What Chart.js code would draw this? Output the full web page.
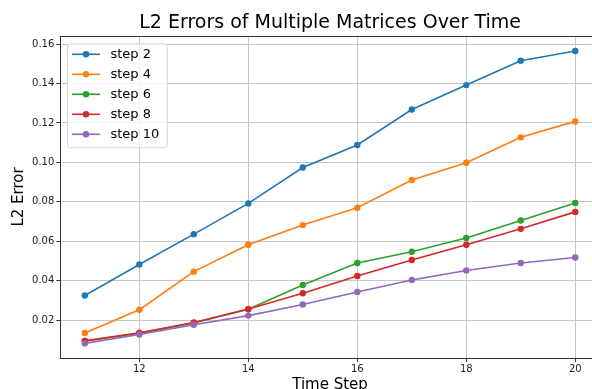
<!DOCTYPE html>
<html>
<head>
<meta charset="utf-8">
<script src="https://cdn.jsdelivr.net/npm/chart.js@4/dist/chart.umd.min.js"></script>
<style>
  html, body { margin: 0; padding: 0; background: #fff; }
  #wrap { width: 592px; height: 389px; overflow: hidden; position: relative; }
  canvas { display: block; }
</style>
</head>
<body>
<div id="wrap"><canvas id="chart" width="660" height="400"></canvas></div>
<script>
// Time steps on the x axis
const timeSteps = [11, 12, 13, 14, 15, 16, 17, 18, 19, 20];

// L2 error per series
const step2  = [0.0325, 0.0482, 0.0636, 0.0792, 0.0974, 0.1088, 0.1268, 0.1392, 0.1516, 0.1565];
const step4  = [0.0135, 0.0253, 0.0446, 0.0582, 0.0682, 0.0770, 0.0911, 0.0998, 0.1127, 0.1208];
const step6  = [0.0094, 0.0133, 0.0186, 0.0255, 0.0378, 0.0490, 0.0547, 0.0617, 0.0705, 0.0794];
const step8  = [0.0095, 0.0136, 0.0188, 0.0256, 0.0336, 0.0424, 0.0505, 0.0582, 0.0663, 0.0749];
const step10 = [0.0082, 0.0127, 0.0177, 0.0223, 0.0279, 0.0343, 0.0404, 0.0452, 0.0490, 0.0518];

const seriesLabels = ['step 2', 'step 4', 'step 6', 'step 8', 'step 10'];
const seriesValues = [step2, step4, step6, step8, step10];
const seriesColors = ['#1f77b4', '#ff7f0e', '#2ca02c', '#d62728', '#9467bd'];

// Tick positions
const xTickValues = [12, 14, 16, 18, 20];
const yTickValues = [0.02, 0.04, 0.06, 0.08, 0.10, 0.12, 0.14, 0.16];

const FONT = 'DejaVu Sans';

const datasets = seriesValues.map((vals, i) => ({
  label: seriesLabels[i],
  data: timeSteps.map((t, j) => ({ x: t, y: vals[j] })),
  borderColor: seriesColors[i],
  backgroundColor: seriesColors[i],
  pointBackgroundColor: seriesColors[i],
  pointBorderWidth: 0,
  pointRadius: 3.2,
  borderWidth: 1.6,
  tension: 0,
  fill: false,
  order: seriesValues.length - i
}));

// Top frame line of the plot area
const topSpine = {
  id: 'topSpine',
  afterDraw(chart) {
    const { ctx, chartArea: a } = chart;
    ctx.save();
    ctx.strokeStyle = '#333';
    ctx.lineWidth = 1;
    ctx.beginPath();
    ctx.moveTo(a.left, Math.round(a.top) + 0.5);
    ctx.lineTo(a.right, Math.round(a.top) + 0.5);
    ctx.stroke();
    ctx.restore();
  }
};

// Legend box drawn inside the upper-left corner of the plot
const boxLegend = {
  id: 'boxLegend',
  afterDatasetsDraw(chart) {
    const { ctx, chartArea: a } = chart;
    const x0 = a.left + 6.7, y0 = a.top + 7.3, w = 99.7, h = 104, r = 3;
    ctx.save();
    ctx.beginPath();
    ctx.roundRect(x0 + 0.5, y0 + 0.5, w, h, r);
    ctx.fillStyle = 'rgba(255,255,255,0.8)';
    ctx.fill();
    ctx.strokeStyle = '#d4d4d4';
    ctx.lineWidth = 1;
    ctx.stroke();
    chart.data.datasets.forEach((ds, i) => {
      const cy = y0 + 11 + i * 20;
      ctx.strokeStyle = ds.borderColor;
      ctx.lineWidth = 1.6;
      ctx.beginPath();
      ctx.moveTo(x0 + 5, cy);
      ctx.lineTo(x0 + 33, cy);
      ctx.stroke();
      ctx.fillStyle = ds.borderColor;
      ctx.beginPath();
      ctx.arc(x0 + 19, cy, 3.2, 0, Math.PI * 2);
      ctx.fill();
      ctx.fillStyle = '#000';
      ctx.font = '13px "' + FONT + '"';
      ctx.textBaseline = 'middle';
      ctx.textAlign = 'left';
      ctx.fillText(ds.label, x0 + 43.5, cy + 0.5);
    });
    ctx.restore();
  }
};

new Chart(document.getElementById('chart'), {
  type: 'line',
  data: { datasets },
  plugins: [topSpine, boxLegend],
  options: {
    responsive: false,
    animation: false,
    devicePixelRatio: 1,
    layout: { padding: { left: 0, right: 60.2, top: 0, bottom: 0 } },
    plugins: {
      legend: { display: false },
      tooltip: { enabled: false },
      title: {
        display: true,
        fullSize: false,
        text: 'L2 Errors of Multiple Matrices Over Time',
        color: '#000',
        font: { family: FONT, size: 19, weight: 'normal', lineHeight: 1.2 },
        padding: { top: 12, bottom: 1.2 }
      }
    },
    scales: {
      x: {
        type: 'linear',
        min: 10.55,
        max: 20.45,
        afterBuildTicks: s => { s.ticks = xTickValues.map(v => ({ value: v })); },
        afterFit: s => { s.height = 42; },
        grid: { color: '#c6c6c6', lineWidth: 1, tickColor: '#333', tickLength: 4, drawTicks: true },
        border: { color: '#333', width: 1 },
        ticks: {
          font: { family: FONT, size: 10 },
          color: '#222',
          padding: 1.5,
          maxRotation: 0,
          callback: v => String(v)
        },
        title: {
          display: true,
          text: 'Time Step',
          color: '#000',
          font: { family: FONT, size: 15, lineHeight: 1.2 },
          padding: { top: 0, bottom: 5.8 }
        }
      },
      y: {
        type: 'linear',
        min: 0.0008,
        max: 0.1641,
        afterBuildTicks: s => { s.ticks = yTickValues.map(v => ({ value: v })); },
        afterFit: s => { s.width = 60.3; },
        grid: { color: '#c6c6c6', lineWidth: 1, tickColor: '#333', tickLength: 4, drawTicks: true },
        border: { color: '#333', width: 1 },
        ticks: {
          font: { family: FONT, size: 10 },
          color: '#222',
          padding: 2,
          callback: v => Number(v).toFixed(2)
        },
        title: {
          display: true,
          text: 'L2 Error',
          color: '#000',
          font: { family: FONT, size: 15, lineHeight: 1.2 },
          padding: { top: 9.75, bottom: 0 }
        }
      }
    }
  }
});
</script>
</body>
</html>
